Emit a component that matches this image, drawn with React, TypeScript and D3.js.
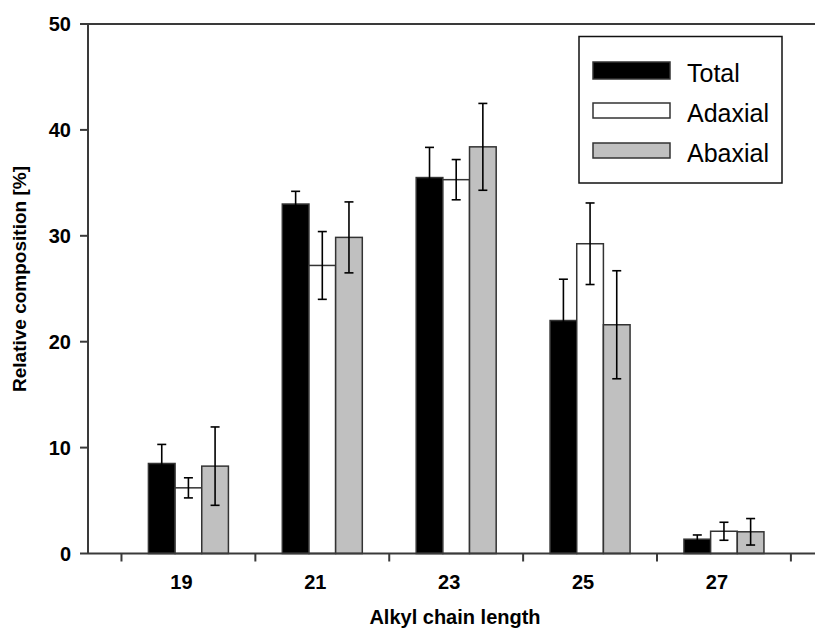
import React from "react";
import * as d3 from "d3";

const categories = [19, 21, 23, 25, 27];
const seriesNames = ["Total", "Adaxial", "Abaxial"];
const total = [8.5, 33.0, 35.5, 22.0, 1.35];
const totalErr = [1.8, 1.2, 2.85, 3.9, 0.4];
const adaxial = [6.2, 27.2, 35.3, 29.25, 2.1];
const adaxialErr = [0.95, 3.2, 1.9, 3.85, 0.85];
const abaxial = [8.25, 29.85, 38.4, 21.6, 2.05];
const abaxialErr = [3.7, 3.35, 4.1, 5.1, 1.25];
const xTicks = [18, 20, 22, 24, 26, 28];
const yTicks = [0, 10, 20, 30, 40, 50];

const fills = ["#000000", "#ffffff", "#c0c0c0"];
const font = "'Liberation Sans', Arial, sans-serif";

const App = () => {
  const width = 815;
  const height = 628;

  const x = d3.scaleLinear().domain([17.5, 28.36]).range([88, 815]);
  const y = d3.scaleLinear().domain([0, 50]).range([553.5, 24]);
  const offset = d3.scaleBand().domain(seriesNames).range([-40, 40]);
  const color = d3.scaleOrdinal<string, string>().domain(seriesNames).range(fills);

  const series = [
    { name: "Total", values: total, errs: totalErr },
    { name: "Adaxial", values: adaxial, errs: adaxialErr },
    { name: "Abaxial", values: abaxial, errs: abaxialErr },
  ];

  const bw = offset.bandwidth();
  const cap = 4.5;
  const axisColor = "#3a3a3a";

  return (
    <svg
      width={width}
      height={height}
      style={{ position: "absolute", left: 0, top: 0, background: "#fff" }}
      fontFamily={font}
    >
      {/* bars */}
      {series.map(s => (
        <g key={s.name}>
          {categories.map((c, i) => (
            <rect
              key={c}
              x={x(c) + (offset(s.name) as number)}
              y={y(s.values[i])}
              width={bw}
              height={y(0) - y(s.values[i])}
              fill={color(s.name)}
              stroke="#333"
              strokeWidth={1.5}
            />
          ))}
        </g>
      ))}

      {/* error bars */}
      {series.map(s => (
        <g key={s.name + "-err"} stroke="#000" strokeWidth={1.6}>
          {categories.map((c, i) => {
            const cx = x(c) + (offset(s.name) as number) + bw / 2;
            const hi = y(s.values[i] + s.errs[i]);
            const lo = y(s.values[i] - s.errs[i]);
            return (
              <g key={c}>
                <line x1={cx} x2={cx} y1={hi} y2={lo} />
                <line x1={cx - cap} x2={cx + cap} y1={hi} y2={hi} />
                <line x1={cx - cap} x2={cx + cap} y1={lo} y2={lo} />
              </g>
            );
          })}
        </g>
      ))}

      {/* axes */}
      <g stroke={axisColor} strokeWidth={2}>
        <line x1={x.range()[0]} x2={x.range()[0]} y1={y(0)} y2={y(50)} />
        <line x1={x.range()[0]} x2={x.range()[1]} y1={y(0)} y2={y(0)} />
        <line x1={x.range()[0]} x2={x.range()[1]} y1={y(50)} y2={y(50)} />
        {yTicks.map(t => (
          <line key={t} x1={x.range()[0] - 8} x2={x.range()[0]} y1={y(t)} y2={y(t)} />
        ))}
        {xTicks.map(t => (
          <line key={t} x1={x(t)} x2={x(t)} y1={y(0)} y2={y(0) + 8} />
        ))}
      </g>

      {yTicks.map(t => (
        <text
          key={t}
          x={71}
          y={y(t) + 7}
          textAnchor="end"
          fontSize={20}
          fontWeight="bold"
          fill="#000"
        >
          {t}
        </text>
      ))}

      {categories.map(c => (
        <text
          key={c}
          x={x(c) - 7}
          y={589}
          textAnchor="middle"
          fontSize={20}
          fontWeight="bold"
          fill="#000"
        >
          {c}
        </text>
      ))}

      <text x={455} y={624} textAnchor="middle" fontSize={20} fontWeight="bold">
        Alkyl chain length
      </text>
      <text
        transform="translate(26,279) rotate(-90)"
        textAnchor="middle"
        fontSize={19}
        fontWeight="bold"
      >
        Relative composition [%]
      </text>

      {/* legend */}
      <rect x={579} y={36.5} width={203} height={146.5} fill="#fff" stroke="#111" strokeWidth={1.5} />
      {seriesNames.map((n, i) => (
        <g key={n} transform={`translate(593, ${70.5 + i * 40})`}>
          <rect
            x={0}
            y={i === 0 ? -8.5 : -7.5}
            width={77}
            height={i === 0 ? 17 : 15}
            fill={color(n)}
            stroke="#333"
            strokeWidth={1.5}
          />
          <text x={94} y={11.5} fontSize={25} fill="#000">
            {n}
          </text>
        </g>
      ))}
    </svg>
  );
};

export default App;
